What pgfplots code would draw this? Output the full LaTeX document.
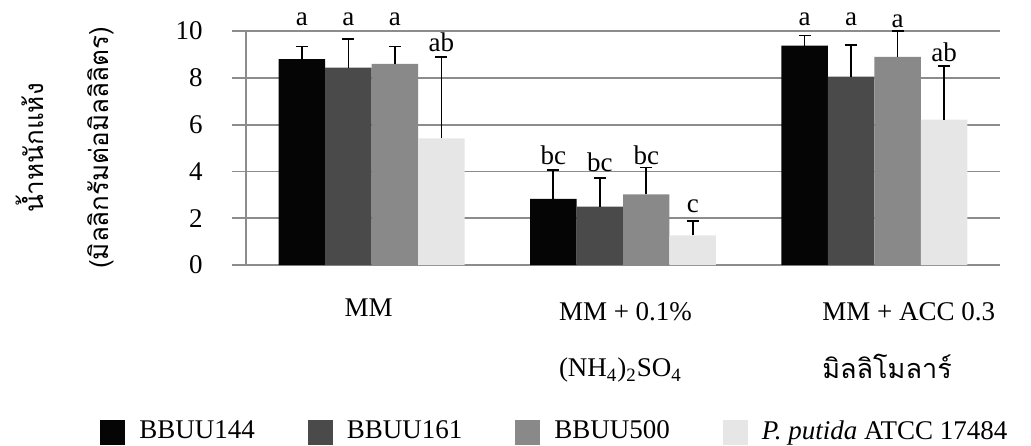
\documentclass[border=0pt]{standalone}
\usepackage{pgfplots}
\pgfplotsset{compat=1.18}
\usepackage{fontspec}
\setmainfont{Liberation Serif}
\newfontfamily\thaifont[Script=Thai]{Loma}
\definecolor{c1}{RGB}{5,5,5}
\definecolor{c2}{RGB}{74,74,74}
\definecolor{c3}{RGB}{137,137,137}
\definecolor{c4}{RGB}{230,230,230}
\definecolor{gridc}{RGB}{140,140,140}
\pgfplotstableread{
x y e
0 8.80 0.53
1 2.83 1.23
2 9.37 0.43
}\sA
\pgfplotstableread{
x y e
0 8.43 1.24
1 2.49 1.23
2 8.05 1.34
}\sB
\pgfplotstableread{
x y e
0 8.59 0.74
1 3.02 1.14
2 8.89 1.11
}\sC
\pgfplotstableread{
x y e
0 5.41 3.48
1 1.27 0.61
2 6.21 2.29
}\sD
\begin{document}
\fontsize{13.5}{16}\selectfont
\begin{tikzpicture}
\begin{axis}[
  name=ax,
  at={(0,0)}, anchor=south west,
  scale only axis, width=377pt, height=117pt,
  xmin=-0.5, xmax=2.5, ymin=0, ymax=10,
  ytick={0,2,4,6,8,10},
  xtick={0,1,2},
  xticklabels={
    {\makebox[0pt][l]{\hspace*{-13.5pt}MM}},
    {\makebox[0pt][l]{\hspace*{-32pt}\begin{tabular}[t]{@{}l@{}}MM + 0.1\%\\[12pt](NH\textsubscript{4})\textsubscript{2}SO\textsubscript{4}\end{tabular}}},
    {\makebox[0pt][l]{\hspace*{-26pt}\begin{tabular}[t]{@{}l@{}}MM + ACC 0.3\\[12pt]{\thaifont มิลลิโมลาร์}\end{tabular}}}
  },
  xticklabel style={anchor=north, yshift=-5pt},
  x tick style={draw=none},
  axis lines*=left,
  axis line style={draw=gridc, line width=0.9pt, -},
  ymajorgrids, grid style={draw=gridc, line width=0.9pt},
  y tick style={draw=gridc, line width=0.9pt},
  tick align=outside, major tick length=7pt,
  yticklabel style={xshift=-10pt},
  /pgf/number format/assume math mode=true,
  ticklabel style={font=\fontsize{13.5}{16}\selectfont},
  ylabel={น้ำหนักแห้ง\\(มิลลิกรัมต่อมิลลิลิตร)},
  ylabel style={at={(axis description cs:-0.175,0.5)}, anchor=south, inner sep=0pt, align=center, font=\thaifont\fontsize{13}{32.5}\selectfont},
  clip=false,
  ybar, bar width=0.185,
  error bars/y dir=plus, error bars/y explicit,
  error bars/error bar style={line width=0.8pt, black},
  error bars/error mark options={rotate=90, mark size=3pt, line width=0.8pt, black},
  legend style={at={(axis description cs:0,0)}, anchor=west, xshift=-73pt, yshift=-83.5pt, draw=none, fill=none, legend columns=-1, inner sep=0pt, font=\fontsize{13.5}{16}\selectfont, /tikz/every odd column/.append style={column sep=5pt}, /tikz/every even column/.append style={column sep=24.5pt}},
  legend image code/.code={\fill[#1, draw=none] (0pt,-6.25pt) rectangle (12.5pt,6.25pt);},
]
\addplot[fill=c1, draw=none, bar shift=-0.2775] table[x=x, y=y, y error=e] {\sA};
\addplot[fill=c2, draw=none, bar shift=-0.0925] table[x=x, y=y, y error=e] {\sB};
\addplot[fill=c3, draw=none, bar shift=0.0925] table[x=x, y=y, y error=e] {\sC};
\addplot[fill=c4, draw=none, bar shift=0.2775] table[x=x, y=y, y error=e] {\sD};
\legend{BBUU144, BBUU161, BBUU500, \textit{P. putida} ATCC 17484}
\path[every node/.style={anchor=south, inner sep=0pt, font=\fontsize{13.5}{16}\selectfont}]
  (axis cs:-0.2775,10.21) node {a}
  (axis cs:-0.0925,10.21) node {a}
  (axis cs:0.0925,10.21) node {a}
  (axis cs:0.2775,9.10) node {ab}
  (axis cs:0.7225,4.27) node {bc}
  (axis cs:0.9075,3.97) node {bc}
  (axis cs:1.0925,4.27) node {bc}
  (axis cs:1.2775,2.22) node {c}
  (axis cs:1.7225,10.21) node {a}
  (axis cs:1.9075,10.21) node {a}
  (axis cs:2.0925,10.13) node {a}
  (axis cs:2.2775,8.68) node {ab};
\end{axis}
\pgfresetboundingbox
\path (-123pt,-90pt) rectangle (392.5pt,132.5pt);
\end{tikzpicture}
\end{document}
